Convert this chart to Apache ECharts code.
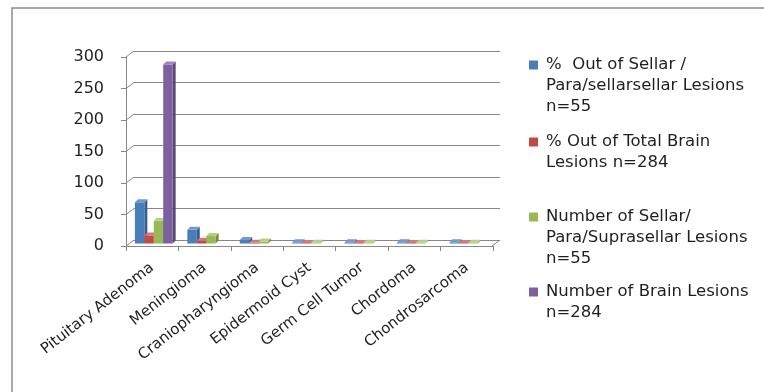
<!DOCTYPE html>
<html>
<head>
<meta charset="utf-8">
<title>Sellar / parasellar lesions</title>
<script src="https://cdn.jsdelivr.net/npm/echarts@6/dist/echarts.min.js"></script>
<style>
  html, body { margin: 0; padding: 0; background: #ffffff; }
  #chart { width: 764px; height: 392px; }
</style>
</head>
<body>
<div id="chart"></div>
<script>
// Lesion types along the category axis
const categories = ['Pituitary Adenoma', 'Meningioma', 'Craniopharyngioma', 'Epidermoid Cyst',
  'Germ Cell Tumor', 'Chordoma', 'Chondrosarcoma'];

// Series values
const pctOfSellar = [65.5, 21.8, 5.5, 1.8, 1.8, 1.8, 1.8];
const pctOfBrain = [12.7, 4.2, 1.1, 0.35, 0.35, 0.35, 0.35];
const sellarCount = [36, 12, 3, 1, 1, 1, 1];
const brainCount = [284, null, null, null, null, null, null];

// Value-axis ticks
const yTicks = [0, 50, 100, 150, 200, 250, 300];

// Legend entries, one array of wrapped lines per series
const legendLines = [
  ['%  Out of Sellar /', 'Para/sellarsellar Lesions', 'n=55'],
  ['% Out of Total Brain', 'Lesions n=284'],
  ['Number of Sellar/', 'Para/Suprasellar Lesions', 'n=55'],
  ['Number of Brain Lesions', 'n=284']
];

const FONT = 'DejaVu Sans';
const TEXT = '#1f1f1f';
const LINE = '#888888';
const DEPTH_X = 8, DEPTH_Y = 6;      // offset from front plane to back wall
const LINE_H = 21;

// front / side / top shades per series
const palettes = [
  { front: '#4a7ebb', side: '#375f8f', top: '#7399ce' },
  { front: '#be4b48', side: '#8e3835', top: '#d27a77' },
  { front: '#98b954', side: '#728b3f', top: '#b6cf85' },
  { front: '#7d60a0', side: '#5d4878', top: '#9d86ba' }
];

const seriesValues = [pctOfSellar, pctOfBrain, sellarCount, brainCount];
const seriesNames = legendLines.map(l => l.join(' '));

// 3-D looking column: front face, right side and top
function columnRenderer(slot, pal) {
  return function (params, api) {
    const v = api.value(1);
    const cat = api.value(0);
    const base = api.coord([cat, 0]);
    const tip = api.coord([cat, v]);
    const band = api.size([1, 0])[0];
    const w = band * 0.18;
    const x = base[0] - band / 2 + band * 0.17 + slot * w;
    const lift = -2.5;
    const yb = base[1] + lift;
    const yt = Math.min(tip[1] + lift, yb - 0.6);
    const dx = 3, dy = 3;
    return {
      type: 'group',
      children: [
        { type: 'polygon', shape: { points: [[x + w, yt], [x + w + dx, yt - dy], [x + w + dx, yb - dy], [x + w, yb]] },
          style: { fill: pal.side } },
        { type: 'rect', shape: { x: x, y: yt, width: w, height: yb - yt }, style: { fill: pal.front } },
        { type: 'polygon', shape: { points: [[x, yt], [x + dx, yt - dy], [x + w + dx, yt - dy], [x + w, yt]] },
          style: { fill: pal.top } }
      ]
    };
  };
}

const barSeries = seriesValues.map((vals, s) => ({
  name: seriesNames[s],
  type: 'custom',
  xAxisIndex: 0,
  yAxisIndex: 0,
  z: 5,
  color: palettes[s].front,
  renderItem: columnRenderer(s, palettes[s]),
  encode: { x: 0, y: 1 },
  data: vals.map((v, i) => [i, v]).filter(d => d[1] !== null)
}));

// slanted joins between the front axis and the back wall, plus the floor's right edge
const depthSeries = {
  type: 'custom',
  xAxisIndex: 1,
  yAxisIndex: 1,
  z: 2,
  silent: true,
  renderItem: function (params, api) {
    const v = api.value(0);
    const p = api.coord([0, v]);
    const children = [{
      type: 'line',
      shape: { x1: p[0] - DEPTH_X, y1: p[1] + DEPTH_Y, x2: p[0], y2: p[1] },
      style: { stroke: LINE, lineWidth: 1 }
    }];
    if (v === 0) {
      const q = api.coord([1, 0]);
      children.push({
        type: 'line',
        shape: { x1: q[0] - DEPTH_X, y1: q[1] + DEPTH_Y, x2: q[0], y2: q[1] },
        style: { stroke: LINE, lineWidth: 1 }
      });
    }
    return { type: 'group', children: children };
  },
  encode: { y: 0 },
  data: yTicks.map(t => [t])
};

// One legend block per series so each entry keeps its own slot.
// Blank lines are prepended so the swatch (centred on the text block)
// sits beside the first line of the entry.
const legendFirstLine = [65, 142, 217, 292];
const legends = legendLines.map((lines, i) => ({
  data: [seriesNames[i]],
  orient: 'vertical',
  left: 529,
  top: legendFirstLine[i] - (2 * lines.length - 1) * LINE_H / 2,
  padding: 0,
  selectedMode: false,
  icon: 'rect',
  itemWidth: 9,
  itemHeight: 9,
  formatter: () => new Array(lines.length - 1).fill(' ').concat(lines).join('\n'),
  textStyle: {
    fontFamily: FONT, fontSize: 16.5, color: TEXT, lineHeight: LINE_H,
    padding: [0, 0, 0, 3]
  }
}));

const option = {
  backgroundColor: '#ffffff',
  animation: false,
  textStyle: { fontFamily: FONT },
  grid: [
    { left: 126, top: 57, width: 367, height: 189 },                                   // front plane
    { left: 126 + DEPTH_X, top: 57 - DEPTH_Y, width: 366, height: 189 }                 // back wall
  ],
  xAxis: [
    {
      gridIndex: 0, type: 'category', data: categories,
      axisLine: { show: true, lineStyle: { color: LINE, width: 1 } },
      axisTick: { show: true, length: 5, lineStyle: { color: LINE } },
      axisLabel: { rotate: 38, margin: 20, fontFamily: FONT, fontSize: 15, color: TEXT, interval: 0 },
      splitLine: { show: false }
    },
    { gridIndex: 1, type: 'value', min: 0, max: 1, show: false }
  ],
  yAxis: [
    {
      gridIndex: 0, type: 'value', min: 0, max: 300, interval: 50,
      axisLine: { show: true, lineStyle: { color: LINE, width: 1 } },
      axisTick: { show: true, length: 5, lineStyle: { color: LINE } },
      axisLabel: { margin: 22, fontFamily: FONT, fontSize: 16, color: TEXT },
      splitLine: { show: false }
    },
    {
      gridIndex: 1, type: 'value', min: 0, max: 300, interval: 50,
      axisLine: { show: false }, axisTick: { show: false }, axisLabel: { show: false },
      splitLine: { show: true, lineStyle: { color: LINE, width: 1 } }
    }
  ],
  legend: legends,
  graphic: [{
    type: 'rect', silent: true, z: 0,
    shape: { x: 12, y: 8, width: 1000, height: 600 },
    style: { fill: 'none', stroke: '#8c8c8c', lineWidth: 1.5 }
  }],
  series: [depthSeries].concat(barSeries)
};

const chart = echarts.init(document.getElementById('chart'), null, { renderer: 'canvas' });
chart.setOption(option);
</script>
</body>
</html>
